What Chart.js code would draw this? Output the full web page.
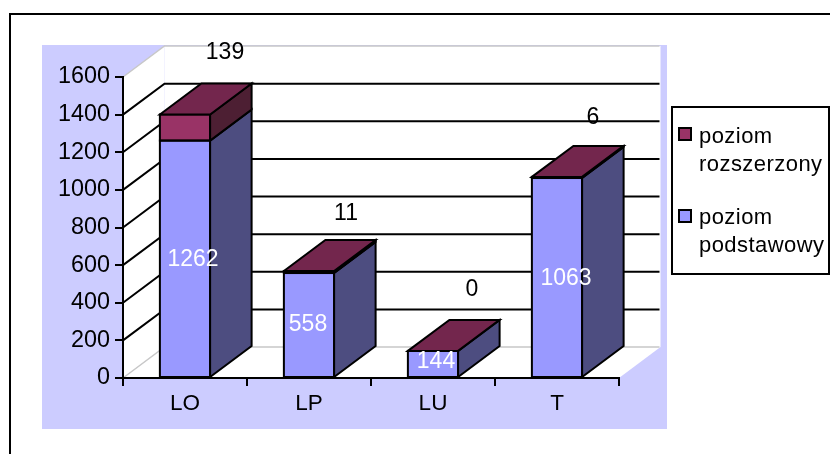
<!DOCTYPE html>
<html>
<head>
<meta charset="utf-8">
<style>html,body{margin:0;padding:0;background:#fff}canvas{display:block}</style>
<script src="https://cdn.jsdelivr.net/npm/chart.js@4"></script>
</head>
<body>
<div style="width:830px;height:454px"><canvas id="c" width="830" height="454"></canvas></div>
<script>
const categories = ['LO', 'LP', 'LU', 'T'];
const basicValues = [1262, 558, 144, 1063];
const extendedValues = [139, 11, 0, 6];
const basicLegend = ['poziom', 'podstawowy'];
const extendedLegend = ['poziom', 'rozszerzony'];
const yTicks = [0, 200, 400, 600, 800, 1000, 1200, 1400, 1600];

// small per-label nudges, separate from the data
const basicNudgeX = [8, -1, 3, 9];
const basicNudgeY = [1, 0, -2, 1];
const extendedNudgeX = [40, 37, 39, 36];
const extendedNudgeY = [-62, -57, -61, -59];

const FONT = '"Liberation Sans", Arial, sans-serif';
const DX = 41.5, DY = 31;

function poly(ctx, pts, fill, stroke, lw) {
  ctx.beginPath();
  pts.forEach((p, i) => i ? ctx.lineTo(p[0], p[1]) : ctx.moveTo(p[0], p[1]));
  ctx.closePath();
  if (fill) { ctx.fillStyle = fill; ctx.fill(); }
  if (stroke) { ctx.strokeStyle = stroke; ctx.lineWidth = lw || 2; ctx.lineJoin = 'miter'; ctx.stroke(); }
}

const box3d = {
  id: 'box3d',
  beforeDraw(chart) {
    const ctx = chart.ctx, y = chart.scales.y, x = chart.scales.x;
    const L = x.left, R = x.right, B = y.bottom, T = y.top;
    ctx.save();
    ctx.fillStyle = '#fff'; ctx.fillRect(0, 0, 830, 454);
    ctx.strokeStyle = '#000'; ctx.lineWidth = 2;
    ctx.strokeRect(10, 14, 860, 500);
    ctx.fillStyle = '#ccccff'; ctx.fillRect(42, 45, 625, 384);
    poly(ctx, [[L, B], [L + DX, B - DY], [L + DX, T - DY], [L, T]], '#fff');
    poly(ctx, [[L + DX, T - DY], [R + DX, T - DY], [R + DX, B - DY], [L + DX, B - DY]], '#fff');
    poly(ctx, [[L, B], [L + DX, B - DY], [R + DX, B - DY], [R, B]], '#fff');
    yTicks.forEach(v => {
      const py = y.getPixelForValue(v);
      ctx.beginPath();
      ctx.moveTo(L, py); ctx.lineTo(L + DX, py - DY); ctx.lineTo(R + DX - 1, py - DY);
      const edge = v === 0 || v === 1600;
      ctx.strokeStyle = edge ? '#c8c8c8' : '#000';
      ctx.lineWidth = edge ? 1.5 : 2;
      ctx.stroke();
    });
    ctx.restore();
  },
  afterDatasetsDraw(chart) {
    const ctx = chart.ctx;
    const m0 = chart.getDatasetMeta(0).data, m1 = chart.getDatasetMeta(1).data;
    ctx.save();
    categories.forEach((c, i) => {
      const b0 = m0[i], b1 = m1[i];
      const l = b0.x - b0.width / 2, r = b0.x + b0.width / 2;
      const y0 = b0.base, ym = b0.y, yt = b1.y;
      ctx.strokeStyle = '#000'; ctx.lineWidth = 2;
      ctx.strokeRect(l, ym, r - l, y0 - ym);
      if (ym - yt > 0.5) ctx.strokeRect(l, yt, r - l, ym - yt);
      poly(ctx, [[r, y0], [r + DX, y0 - DY], [r + DX, ym - DY], [r, ym]], '#4d4d80', '#000');
      if (ym - yt > 0.5) poly(ctx, [[r, ym], [r + DX, ym - DY], [r + DX, yt - DY], [r, yt]], '#4d1f33', '#000');
      poly(ctx, [[l, yt], [l + DX, yt - DY], [r + DX, yt - DY], [r, yt]], '#73264d', '#000');
    });
    ctx.font = '23px ' + FONT;
    ctx.textAlign = 'center'; ctx.textBaseline = 'middle';
    categories.forEach((c, i) => {
      const b0 = m0[i], b1 = m1[i];
      ctx.fillStyle = '#fff';
      ctx.fillText(String(basicValues[i]), b0.x + basicNudgeX[i], (b0.y + b0.base) / 2 + basicNudgeY[i]);
      ctx.fillStyle = '#000';
      ctx.fillText(String(extendedValues[i]), b1.x + extendedNudgeX[i], b1.y + extendedNudgeY[i]);
    });
    poly(ctx, [[672, 107], [829, 107], [829, 274], [672, 274]], '#fff', '#000');
    const rows = [
      [chart.data.datasets[1], extendedLegend, 128, 143],
      [chart.data.datasets[0], basicLegend, 210, 224]
    ];
    rows.forEach(([ds, lines, sy, by]) => {
      ctx.fillStyle = ds.backgroundColor;
      ctx.strokeStyle = '#000'; ctx.lineWidth = 2;
      ctx.fillRect(679, sy, 12, 12); ctx.strokeRect(679, sy, 12, 12);
      ctx.fillStyle = '#000';
      ctx.textAlign = 'left'; ctx.textBaseline = 'alphabetic';
      ctx.font = '22px ' + FONT;
      if ('letterSpacing' in ctx) ctx.letterSpacing = '0.45px';
      ctx.fillText(lines[0], 699, by);
      ctx.fillText(lines[1], 699, by + 28);
      if ('letterSpacing' in ctx) ctx.letterSpacing = '0px';
    });
    ctx.restore();
  }
};

new Chart(document.getElementById('c'), {
  type: 'bar',
  data: {
    labels: categories,
    datasets: [
      { label: 'poziom podstawowy', data: basicValues, backgroundColor: '#9999ff', borderWidth: 0 },
      { label: 'poziom rozszerzony', data: extendedValues, backgroundColor: '#993366', borderWidth: 0 }
    ]
  },
  options: {
    responsive: false,
    animation: false,
    devicePixelRatio: 1,
    layout: { padding: { left: 0, right: 211, top: 77, bottom: 0 } },
    plugins: { legend: { display: false }, tooltip: { enabled: false }, title: { display: false } },
    datasets: { bar: { categoryPercentage: 1, barPercentage: 0.405 } },
    scales: {
      x: {
        stacked: true,
        offset: true,
        afterFit(s) { s.height = 76; },
        grid: { offset: true, drawOnChartArea: false, drawTicks: true, tickLength: 8, color: '#000', lineWidth: 2 },
        border: { color: '#000', width: 2 },
        ticks: { color: '#000', font: { family: FONT, size: 22.5 }, padding: 4, maxRotation: 0 }
      },
      y: {
        stacked: true,
        min: 0,
        max: 1600,
        afterFit(s) { s.width = 123; },
        afterBuildTicks(s) { s.ticks = yTicks.map(v => ({ value: v })); },
        grid: { drawOnChartArea: false, drawTicks: true, tickLength: 8, color: '#000', lineWidth: 2 },
        border: { color: '#000', width: 2 },
        ticks: { color: '#000', font: { family: FONT, size: 23.4 }, padding: 5, callback: v => String(v) }
      }
    }
  },
  plugins: [box3d]
});
</script>
</body>
</html>
